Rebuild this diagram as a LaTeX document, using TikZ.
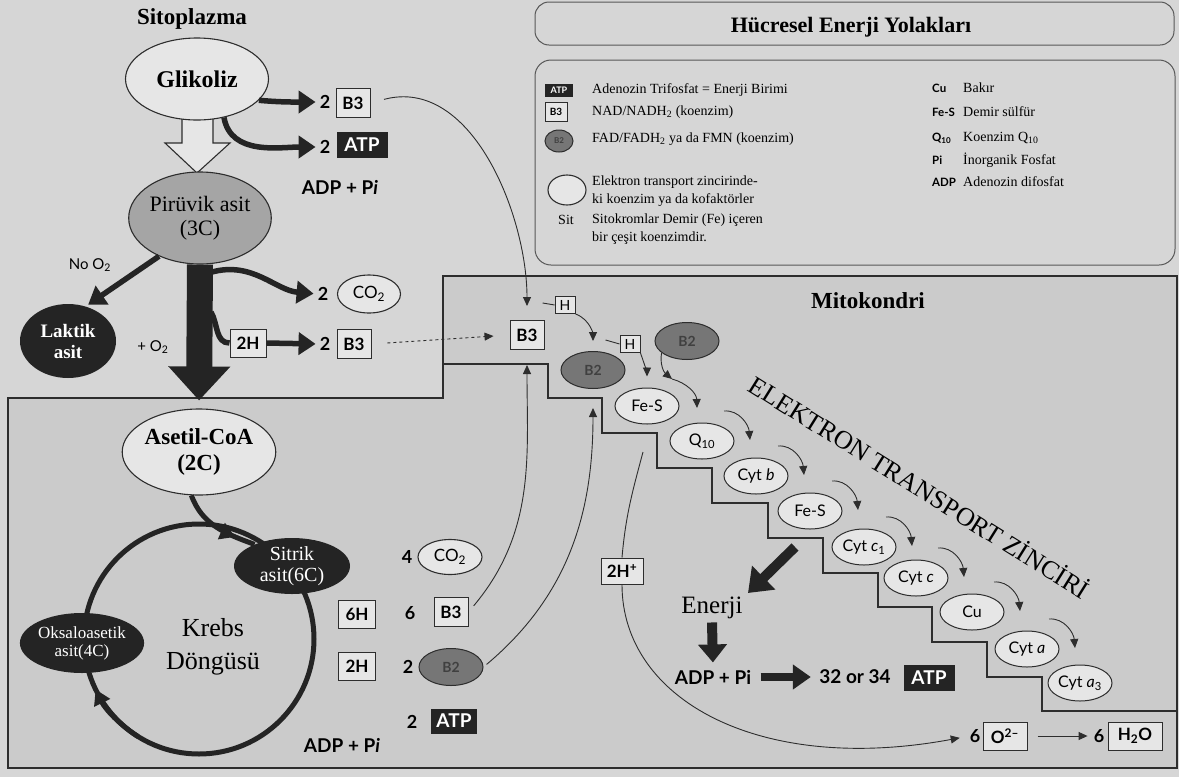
\documentclass[tikz,border=0pt]{standalone}
\usepackage{fontspec}
\setmainfont{Liberation Serif}
\setsansfont{Lato}
\usetikzlibrary{arrows.meta,decorations.markings,shapes.geometric,calc}
\definecolor{bgc}{RGB}{214,214,214}
\definecolor{mitoc}{RGB}{203,203,203}
\definecolor{lightc}{RGB}{230,230,230}
\definecolor{pyrc}{RGB}{165,165,165}
\definecolor{b2c}{RGB}{118,118,118}
\definecolor{darkc}{RGB}{36,36,36}
\definecolor{linec}{RGB}{45,45,45}
\tikzset{
  lbl/.style={font=\sffamily\bfseries\fontsize{18}{20}\selectfont, inner sep=0pt},
  boxn/.style={draw=linec, line width=1pt, fill=lightc, minimum width=34pt, minimum height=29pt, inner sep=0pt, font=\sffamily\bfseries\fontsize{17}{19}\selectfont},
  hbox/.style={draw=linec, line width=0.9pt, fill=lightc, minimum width=20pt, minimum height=17pt, inner sep=0pt, font=\sffamily\fontsize{14}{16}\selectfont},
  atpn/.style={fill=darkc, text=white, minimum width=51pt, minimum height=26pt, inner sep=0pt, font=\sffamily\bfseries\fontsize{19}{21}\selectfont},
  lell/.style={ellipse, draw=linec, line width=1.1pt, fill=lightc, inner sep=0pt},
  darkell/.style={ellipse, fill=darkc, text=white, inner sep=0pt, align=center},
  b2n/.style={ellipse, draw=linec, line width=1pt, fill=b2c, minimum width=64pt, minimum height=37pt, inner sep=0pt, text=black!75, font=\sffamily\bfseries\fontsize{14}{16}\selectfont},
  etcn/.style={ellipse, draw=linec, line width=1pt, fill=lightc, minimum width=64pt, minimum height=36pt, inner sep=0pt, font=\sffamily\fontsize{16}{18}\selectfont},
  thinarr/.style={-{Triangle[length=9pt,width=8pt]}, line width=0.9pt, draw=linec},
  fatarr/.style={-{Triangle[length=17pt,width=22pt]}, line width=5.5pt, draw=darkc},
  leg/.style={anchor=west, inner sep=0pt, font=\fontsize{14}{18}\selectfont, align=left},
  legk/.style={anchor=west, inner sep=0pt, font=\sffamily\bfseries\fontsize{11.5}{14}\selectfont},
}
\begin{document}
\begin{tikzpicture}[x=1pt,y=-1pt]
\useasboundingbox (0,0) rectangle (1179,777);
\fill[bgc] (0,0) rectangle (1179,777);

% mitochondrion
\path[fill=mitoc, draw=linec, line width=1.6pt] (443,276) -- (1177,276) -- (1177,768) -- (8,768) -- (8,398) -- (443,398) -- cycle;
\draw[linec, line width=1.6pt] (443,364) -- (548,364) -- (548,398) -- (602,398) -- (602,433) -- (657,433) -- (657,468) -- (712,468) -- (712,503) -- (768,503) -- (768,538) -- (823,538) -- (823,573) -- (878,573) -- (878,607) -- (932,607) -- (932,642) -- (987,642) -- (987,677) -- (1042,677) -- (1042,711) -- (1177,711);

% legend frames
\draw[linec!80, line width=1pt, rounded corners=14pt] (535,2) rectangle (1174,45);
\draw[linec!80, line width=1pt, rounded corners=16pt] (535,60) rectangle (1175,265);
\node[font=\bfseries\fontsize{22}{24}\selectfont] (title) at (851,27) {Hücresel Enerji Yolakları};

\node[atpn, minimum width=28pt, minimum height=13pt, font=\sffamily\bfseries\fontsize{9}{10}\selectfont] (latp) at (559,90) {ATP};
\node[boxn, minimum width=22pt, minimum height=19pt, font=\sffamily\bfseries\fontsize{10}{11}\selectfont] (lb3) at (556,112) {B3};
\node[b2n, minimum width=28pt, minimum height=22pt, font=\sffamily\bfseries\fontsize{8}{9}\selectfont] (lb2) at (559,141) {B2};
\node[lell, minimum width=38pt, minimum height=30pt] (lel) at (567,190) {};
\node[font=\fontsize{14}{16}\selectfont] (lsit) at (566,220) {Sit};
\node[leg] (t1) at (592,90) {Adenozin Trifosfat = Enerji Birimi};
\node[leg] (t2) at (592,112) {NAD/NADH\textsubscript{2} (koenzim)};
\node[leg] (t3) at (592,139) {FAD/FADH\textsubscript{2} ya da FMN (koenzim)};
\node[leg] (t4) at (592,191) {Elektron transport zincirinde-\\ki koenzim ya da kofaktörler};
\node[leg] (t5) at (592,229) {Sitokromlar Demir (Fe) içeren\\bir çeşit koenzimdir.};
\node[legk] (k1) at (932,88) {Cu};
\node[legk] (k2) at (932,112) {Fe-S};
\node[legk] (k3) at (932,138) {Q\textsubscript{10}};
\node[legk] (k4) at (932,160) {Pi};
\node[legk] (k5) at (932,182) {ADP};
\node[leg] (d1) at (963,88) {Bakır};
\node[leg] (d2) at (963,112) {Demir sülfür};
\node[leg] (d3) at (963,138) {Koenzim Q\textsubscript{10}};
\node[leg] (d4) at (963,160) {İnorganik Fosfat};
\node[leg] (d5) at (963,182) {Adenozin difosfat};

% cytoplasm
\node[font=\bfseries\fontsize{23}{25}\selectfont] (sito) at (192,19) {Sitoplazma};
\filldraw[fill=lightc, draw=linec, line width=1.1pt] (182,110) -- (213,110) -- (213,143) -- (230,143) -- (197,173) -- (165,143) -- (182,143) -- cycle;
\node[lell, minimum width=143pt, minimum height=82pt, font=\bfseries\fontsize{24}{26}\selectfont] (glik) at (197,79) {Glikoliz};
\node[lell, fill=pyrc, minimum width=134pt, minimum height=92pt, align=center, font=\fontsize{22}{24}\selectfont] (pyr) at (200,218) {Pirüvik asit\\(3C)};

\node[lbl] (n2a) at (325,102) {2};
\node[boxn] (b3a) at (353,103) {B3};
\node[lbl] (n2b) at (325,147) {2};
\node[atpn] (atpa) at (362,145) {ATP};
\node[font=\sffamily\bfseries\fontsize{19}{21}\selectfont] (adp1) at (340,187) {ADP + P\textit{i}};
\draw[fatarr, shorten >=4pt] (glik.-19) to[out=-5,in=180] (n2a.west);
\draw[fatarr, shorten >=4pt] (glik.-55) to[out=-80,in=180] (n2b.west);

\node[font=\sffamily\fontsize{15}{17}\selectfont] (noo) at (90,265) {No O\textsubscript{2}};
\node[darkell, minimum width=96pt, minimum height=74pt, font=\bfseries\fontsize{19}{21}\selectfont] (lak) at (68,341) {Laktik\\asit};
\node[font=\sffamily\fontsize{15}{17}\selectfont] (plo) at (153,347) {+ O\textsubscript{2}};
\draw[fatarr, shorten >=3pt] (pyr.-137) -- (lak.63);

\node[lell, minimum width=138pt, minimum height=86pt, align=center, font=\bfseries\fontsize{23}{26}\selectfont] (acet) at (199,452) {Asetil-CoA\\(2C)};
\draw[line width=26pt, draw=darkc, -{Triangle[length=34pt,width=60pt]}, shorten >=8pt] (pyr.south) -- (acet.north);

\coordinate (sh1) at (212,272);
\coordinate (sh2) at (211,312);
\node[lbl] (n2c) at (323,294) {2};
\node[lell, minimum width=63pt, minimum height=38pt, font=\sffamily\fontsize{17}{19}\selectfont] (co2a) at (369,294) {CO\textsubscript{2}};
\draw[fatarr, shorten >=4pt] (sh1) to[out=15,in=175] (n2c.west);
\node[boxn, minimum width=36pt, minimum height=28pt] (h2a) at (248,343) {2H};
\draw[line width=5.5pt, darkc] (sh2) to[out=-60,in=180] (h2a.west);
\node[lbl] (n2d) at (325,344) {2};
\node[boxn] (b3b) at (354,344) {B3};
\draw[fatarr, shorten >=4pt] (h2a.east) -- (n2d.west);

% mitochondrion contents
\node[font=\bfseries\fontsize{23}{25}\selectfont] (mito) at (868,301) {Mitokondri};
\node[boxn] (b3m) at (527,335) {B3};
\draw[thinarr, dashed, shorten <=16pt, shorten >=16pt] (b3b.east) -- (b3m.west);
\draw[thinarr, shorten <=14pt, shorten >=14pt] (b3a.east) to[out=15,in=90] (b3m.north);

\node[b2n] (b2l) at (593,370) {B2};
\node[b2n] (b2u) at (687,341) {B2};
\node[hbox] (h1) at (565,305) {H};
\node[hbox] (h2) at (630,344) {H};
\draw[linec, line width=0.9pt] (h1.west) -- ++(-12,-2);
\draw[linec, line width=0.9pt] (h2.west) -- ++(-14,-4);
\draw[thinarr, shorten >=10pt] (h1.south east) to[out=-20,in=90] (b2l.north);

\node[etcn] (e1) at (647,406) {Fe-S};
\node[etcn] (e2) at (702,441) {Q\textsubscript{10}};
\node[etcn] (e3) at (756,476) {Cyt \textit{b}};
\node[etcn] (e4) at (810,511) {Fe-S};
\node[etcn] (e5) at (864,547) {Cyt \textit{c}\textsubscript{1}};
\node[etcn] (e6) at (916,578) {Cyt \textit{c}};
\node[etcn] (e7) at (972,612) {Cu};
\node[etcn] (e8) at (1027,649) {Cyt \textit{a}};
\node[etcn] (e9) at (1080,683) {Cyt \textit{a}\textsubscript{3}};

\draw[thinarr, shorten >=11pt] (h2.south east) to[out=-70,in=90] (e1.north);
\coordinate (mid1) at (672,379);
\draw[thinarr] (b2u.205) to[out=-100,in=140] (mid1);
\draw[thinarr] (mid1) to[out=-15,in=92] ($(e1)+(50,2)$);
\foreach \k in {e2,e3,e4,e5,e6,e7,e8}{
  \draw[thinarr] ($(\k)+(22,-30)$) to[out=5,in=95] ($(\k)+(48,-1)$);
}

\node[font=\fontsize{26}{28}\selectfont, rotate=-32] (etctitle) at (920,486) {ELEKTRON TRANSPORT ZİNCİRİ};

\node[font=\fontsize{25}{27}\selectfont] (enj) at (712,608) {Enerji};
\coordinate (enstart) at (795,547);
\draw[line width=10pt, darkc, -{Triangle[length=22pt,width=32pt]}] (enstart) -- (748,593);
\node[font=\sffamily\bfseries\fontsize{19}{21}\selectfont] (adp2) at (713,677) {ADP + Pi};
\draw[line width=10pt, darkc, -{Triangle[length=18pt,width=28pt]}, shorten >=4pt] (enj.south) -- (adp2.north);
\node[font=\sffamily\bfseries\fontsize{19}{21}\selectfont] (n3234) at (855,677) {32 or 34};
\node[atpn] (atpb) at (929,678) {ATP};
\draw[line width=8pt, darkc, -{Triangle[length=18pt,width=24pt]}, shorten >=5pt, shorten <=6pt] (adp2.east) -- (n3234.west);

\node[boxn, minimum width=42pt, minimum height=26pt] (hp) at (622,571) {2H\textsuperscript{+}};
\coordinate (hstart) at (643,452);
\node[lbl] (n6a) at (975,736) {6};
\node[boxn, minimum width=44pt, minimum height=28pt] (o2) at (1005,736) {O\textsuperscript{2–}};
\node[lbl] (n6b) at (1099,736) {6};
\node[boxn, minimum width=54pt, minimum height=28pt] (h2o) at (1135,736) {H\textsubscript{2}O};
\draw[linec, line width=0.9pt] (hstart) to[out=-105,in=85] (hp.north);
\draw[thinarr, shorten >=10pt] (hp.south) .. controls (622,700) and (760,775) .. (n6a.west);
\draw[thinarr, shorten <=10pt, shorten >=6pt] (o2.east) -- (n6b.west);

% Krebs
\draw[line width=5pt, darkc] (199,639) circle[radius=115pt];
\draw[line width=5pt, darkc, -{Triangle[length=15pt,width=17pt]}] (199,639) ++(238:115pt) arc[start angle=238, end angle=206, radius=115pt];
\node[darkell, minimum width=116pt, minimum height=56pt, font=\fontsize{20}{21}\selectfont] (sit) at (292,566) {Sitrik\\asit(6C)};
\node[darkell, minimum width=118pt, minimum height=60pt, font=\fontsize{17}{18}\selectfont] (oks) at (82,643) {Oksaloasetik\\asit(4C)};
\draw[line width=5pt, darkc, postaction={decorate}, decoration={markings, mark=at position 0.75 with {\arrow{Triangle[length=15pt,width=17pt]}}}] (acet.-100) to[out=-70,in=160] (sit.150);
\node[font=\fontsize{26}{33}\selectfont, align=center] (krebs) at (213,647) {Krebs\\Döngüsü};

\node[boxn, minimum width=37pt, minimum height=28pt] (h6k) at (357,614) {6H};
\node[boxn, minimum width=37pt, minimum height=28pt] (h2k) at (357,666) {2H};
\node[lbl] (n4k) at (407,557) {4};
\node[lell, minimum width=64pt, minimum height=35pt, font=\sffamily\fontsize{17}{19}\selectfont] (co2k) at (450,557) {CO\textsubscript{2}};
\node[lbl] (n6k) at (410,613) {6};
\node[boxn] (b3k) at (451,612) {B3};
\node[lbl] (n2k) at (408,667) {2};
\node[b2n] (b2k) at (451,667) {B2};
\node[lbl] (n2l) at (412,722) {2};
\node[atpn, minimum width=46pt, minimum height=25pt] (atpk) at (454,721) {ATP};
\node[font=\sffamily\bfseries\fontsize{19}{21}\selectfont] (adp3) at (342,745) {ADP + P\textit{i}};
\draw[thinarr, shorten <=8pt, shorten >=15pt] (b3k.east) to[out=50,in=-90] (b3m.south);
\draw[thinarr, shorten <=4pt, shorten >=19pt] (b2k.east) to[out=40,in=-90] (b2l.south);
\end{tikzpicture}
\end{document}
